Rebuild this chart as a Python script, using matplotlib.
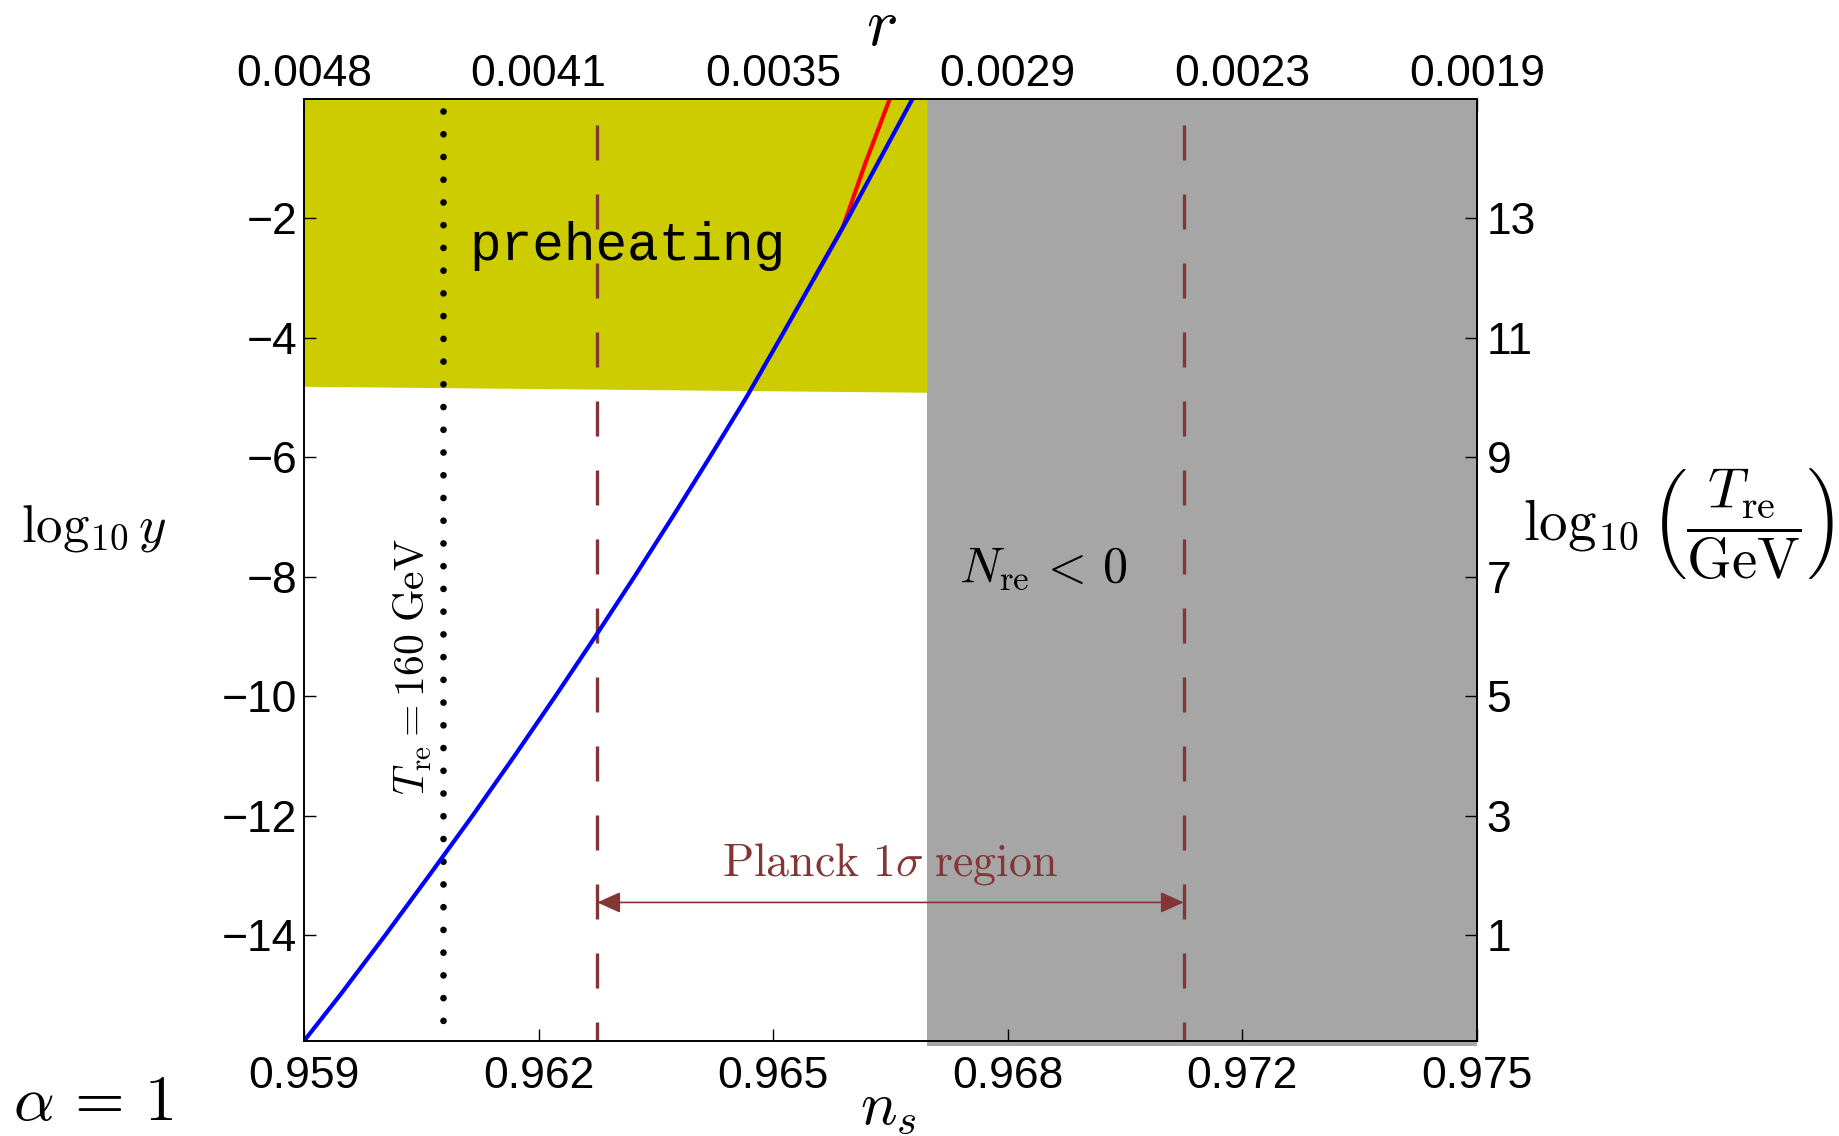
import numpy as np
import matplotlib
matplotlib.use("Agg")
import matplotlib.pyplot as plt

plt.rcParams["font.family"] = ["Liberation Sans", "DejaVu Sans"]
plt.rcParams["mathtext.fontset"] = "cm"

# ------ Data ------
ns_blue = [0.95900, 0.959493, 0.960108, 0.960707, 0.961298, 0.961870,
           0.962428, 0.962973, 0.963506, 0.964026, 0.964534, 0.965032,
           0.965500, 0.965960, 0.966420, 0.966860, 0.967300]
logy_blue = [-15.77, -15, -14, -13, -12, -11, -10, -9, -8, -7, -6, -5,
             -4, -3, -2, -1, 0]

ns_red = [0.96596, 0.96635, 0.96665, 0.96699]
logy_red = [-3.00, -2.15, -1.10, 0.0]

preheat_ns = [0.959, 0.9675]
preheat_edge = [-4.81, -4.91]
nre_neg_ns = [0.9675, 0.975]

ns_160gev = 0.96089
planck_lo, planck_hi = 0.963, 0.971

ns_ticks = [0.959, 0.9622, 0.9654, 0.9686, 0.9718, 0.975]
ns_labels = ["0.959", "0.962", "0.965", "0.968", "0.972", "0.975"]
r_labels = ["0.0048", "0.0041", "0.0035", "0.0029", "0.0023", "0.0019"]
logy_ticks = [-14, -12, -10, -8, -6, -4, -2]
logT_ticks = [1, 3, 5, 7, 9, 11, 13]

xlim = (0.959, 0.975)
ylim = (-15.77, 0.0)
shift = 15  # log10(T_re/GeV) = log10 y + 15

planck_col = "#843535"
tick_fs = 32

# ------ Figure ------
fig = plt.figure(figsize=(18.4, 11.36), dpi=100)
ax = fig.add_axes([0.1652, 0.0836, 0.6375, 0.8293])

# shaded regions
ax.fill_between(nre_neg_ns, [-15.85, -15.85], [0, 0], color="#a6a6a6",
                lw=0, zorder=1, clip_on=False)
ax.fill_between(preheat_ns, preheat_edge, [0, 0], color="#cccc00",
                lw=0, zorder=1)

# lines
ax.plot([ns_160gev, ns_160gev], [-0.21, -15.56], color="k", lw=4.8,
        dashes=(0.01, 3.4), dash_capstyle="round", zorder=3)
for x in [planck_lo, planck_hi]:
    ax.plot([x, x], [-0.44, ylim[0]], color=planck_col, lw=2.4,
            dashes=(10.5, 10.2), zorder=3)
ax.plot(ns_red, logy_red, color="red", lw=3.0, zorder=4)
ax.plot(ns_blue, logy_blue, color="blue", lw=3.0, zorder=5)

ax.annotate("", xy=(planck_lo, -13.45), xytext=(planck_hi, -13.45),
            arrowprops=dict(arrowstyle="<|-|>,head_length=0.4,head_width=0.18",
                            color=planck_col, lw=1.2, shrinkA=0, shrinkB=0,
                            mutation_scale=36), zorder=6)

# texts inside
ax.text(0.96125, -2.70, "preheating", family="Liberation Mono", fontsize=38,
        va="baseline", ha="left", zorder=6)
ax.text(0.96699, -13.0, r"$\mathrm{Planck}\ 1\sigma\ \mathrm{region}$",
        color=planck_col, fontsize=33, ha="center", va="baseline", zorder=6)
ax.text(0.96909, -7.86, r"$N_{\mathrm{re}}\,<\,0$", fontsize=36,
        ha="center", va="center", zorder=6)
ax.text(0.96049, -9.5, r"$T_{\mathrm{re}} = 160\ \mathrm{GeV}$", fontsize=30,
        rotation=90, ha="center", va="center", zorder=6)

# axes
ax.set_xlim(*xlim)
ax.set_ylim(*ylim)
ax.set_xticks(ns_ticks, labels=ns_labels)
ax.set_yticks(logy_ticks)
ax.tick_params(direction="in", length=8.6, width=1, labelsize=tick_fs)
ax.tick_params(axis="x", pad=11)
ax.tick_params(axis="y", pad=5)
for s in ax.spines.values():
    s.set_linewidth(1.2)
    s.set_zorder(7)

top = ax.secondary_xaxis("top")
top.set_xticks(ns_ticks, labels=r_labels)
top.tick_params(direction="in", length=8.6, width=1, labelsize=tick_fs, pad=3)

axr = ax.twinx()
axr.set_ylim(ylim[0] + shift, ylim[1] + shift)
axr.set_yticks(logT_ticks)
axr.tick_params(direction="in", length=8.6, width=1, labelsize=tick_fs, pad=7)
for s in axr.spines.values():
    s.set_linewidth(1.2)

# axis labels
fig.text(0.4793, 0.9604, r"$r$", fontsize=48, ha="center", va="baseline")
fig.text(0.4826, 0.0106, r"$n_s$", fontsize=44, ha="center", va="baseline")
fig.text(0.0114, 0.5229, r"$\log_{10} y$", fontsize=38, ha="left", va="baseline")
fig.text(0.8277, 0.539, r"$\log_{10}\left(\dfrac{T_{\mathrm{re}}}{\mathrm{GeV}}\right)$",
         fontsize=41, ha="left", va="center")
fig.text(0.0072, 0.014, r"$\alpha\,=\,1$", fontsize=46, ha="left", va="baseline")

fig.savefig("out.png", dpi=100)
